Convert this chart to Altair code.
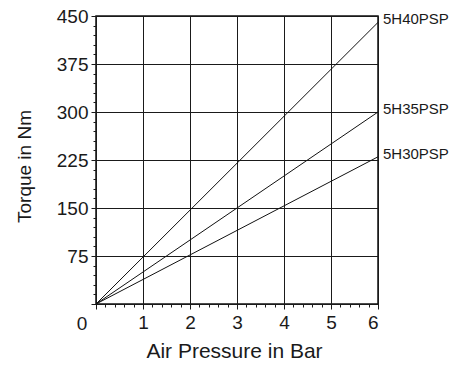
import altair as alt
import pandas as pd

# data
pressure = [0, 6]
models = ["5H40PSP", "5H35PSP", "5H30PSP"]
torque_5h40 = [0, 440]
torque_5h35 = [0, 300]
torque_5h30 = [0, 230]
x_major = [0, 1, 2, 3, 4, 5, 6]
x_minor = [i / 5 for i in range(31)]
y_major = [0, 75, 150, 225, 300, 375, 450]
y_minor = [i * 15 for i in range(31)]

rows = []
for m, vals in zip(models, [torque_5h40, torque_5h35, torque_5h30]):
    for p, t in zip(pressure, vals):
        rows.append({"model": m, "pressure": p, "torque": t})
df = pd.DataFrame(rows)
ends = df[df["pressure"] == pressure[-1]]
origin = pd.DataFrame({"pressure": [0], "torque": [0], "label": ["0"]})

FONT = "Liberation Sans, Arial, sans-serif"
INK = "#1a1a1a"

xs = alt.Scale(domain=[0, 6], nice=False, zero=False)
ys = alt.Scale(domain=[0, 450], nice=False, zero=False)

x_axis = alt.Axis(values=x_major, grid=True, gridColor=INK, gridWidth=1,
                  labelExpr="datum.value == 0 ? '' : datum.label",
                  tickSize=5, tickColor=INK, domain=False, orient="bottom",
                  labelFontSize=19, labelPadding=4, labelColor=INK, labelFont=FONT,
                  title="Air Pressure in Bar", titleFontSize=21, titleFontWeight="normal",
                  titleFont=FONT, titleColor=INK,
                  titleX=138, titleY=53, titleBaseline="alphabetic", titleAlign="center")
y_axis = alt.Axis(values=y_major, grid=True, gridColor=INK, gridWidth=1,
                  labelExpr="datum.value == 0 ? '' : datum.label",
                  tickSize=5, tickColor=INK, domain=False, orient="left",
                  labelFontSize=19, labelPadding=3, labelColor=INK, labelFont=FONT,
                  title="Torque in Nm", titleFontSize=19, titleFontWeight="normal",
                  titleFont=FONT, titleColor=INK,
                  titleX=-72, titleY=150, titleBaseline="middle", titleAlign="center",
                  titleAngle=270)

lines = alt.Chart(df).mark_line(color="#111", strokeWidth=1).encode(
    x=alt.X("pressure:Q", scale=xs, axis=x_axis),
    y=alt.Y("torque:Q", scale=ys, axis=y_axis),
    detail="model:N",
)

minor = alt.Chart(df).mark_point(opacity=0).encode(
    x=alt.X("pressure:Q", scale=xs,
            axis=alt.Axis(values=x_minor, grid=False, labels=False, title=None,
                          tickSize=3, tickColor=INK, domain=False, orient="bottom")),
    y=alt.Y("torque:Q", scale=ys,
            axis=alt.Axis(values=y_minor, grid=False, labels=False, title=None,
                          tickSize=3, tickColor=INK, domain=False, orient="left")),
)

end_labels = alt.Chart(ends).mark_text(align="left", baseline="middle", dx=5, dy=-3,
                                        fontSize=15, font=FONT, color=INK).encode(
    x=alt.X("pressure:Q", scale=xs, axis=None),
    y=alt.Y("torque:Q", scale=ys, axis=None),
    text="model:N",
)

zero_label = alt.Chart(origin).mark_text(align="center", baseline="middle", dx=-14, dy=20,
                                          fontSize=19, font=FONT, color=INK).encode(
    x=alt.X("pressure:Q", scale=xs, axis=None),
    y=alt.Y("torque:Q", scale=ys, axis=None),
    text="label:N",
)

chart = alt.layer(lines, minor, end_labels, zero_label).resolve_axis(
    x="independent", y="independent"
).properties(
    width=282, height=288,
    autosize=alt.AutoSizeParams(type="none"),
    padding={"left": 88, "top": 8, "right": 78, "bottom": 57},
).configure_view(stroke="#111", strokeWidth=1.5)

chart.save("out.html", embed_options={"renderer": "svg", "actions": False})
